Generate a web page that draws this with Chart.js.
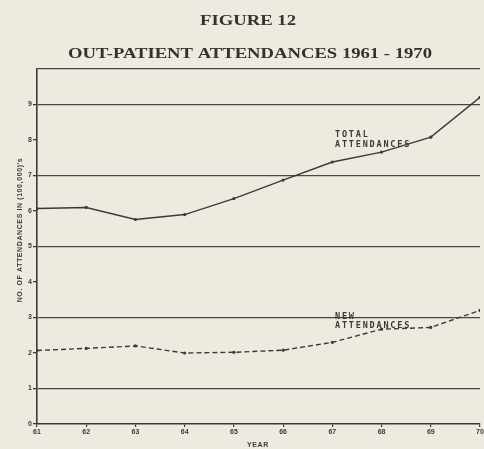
<!DOCTYPE html>
<html>
<head>
<meta charset="utf-8">
<script src="https://cdn.jsdelivr.net/npm/chart.js@4.4.1/dist/chart.umd.min.js"></script>
<style>
  html, body { margin: 0; padding: 0; background: #eeeadf; }
  #wrap { width: 484px; height: 449px; position: relative; }
</style>
</head>
<body>
<div id="wrap"><canvas id="fig12" width="484" height="449"></canvas></div>
<script>
// ── Data (out-patient attendances, in 100,000's) ─────────────
const years       = [61, 62, 63, 64, 65, 66, 67, 68, 69, 70];
const totalAtt    = [6.07, 6.1, 5.76, 5.9, 6.35, 6.87, 7.38, 7.66, 8.08, 9.2];
const newAtt      = [2.07, 2.13, 2.2, 2.0, 2.02, 2.08, 2.3, 2.67, 2.72, 3.2];
const yTickValues = [0, 1, 2, 3, 4, 5, 6, 7, 8, 9];

const INK   = '#3d3a35';
const PAPER = '#eeeadf';

const toPoints = arr => years.map((y, i) => ({ x: y, y: arr[i] }));

// draw text stretched horizontally to a given width (wide book face look)
function wideText(ctx, text, cx, y, targetW) {
  const w = ctx.measureText(text).width;
  ctx.save();
  ctx.translate(cx, y);
  ctx.scale(targetW / w, 1);
  ctx.fillText(text, 0, 0);
  ctx.restore();
}

/* ── Paper background + annotations ───────────────────────── */
const paperPlugin = {
  id: 'paper',
  beforeDraw(chart) {
    const { ctx, width, height } = chart;
    ctx.save();
    ctx.fillStyle = PAPER;
    ctx.fillRect(0, 0, width, height);
    ctx.restore();
  },
  afterDraw(chart) {
    const { ctx } = chart;
    ctx.save();
    ctx.fillStyle = '#35322d';
    ctx.textAlign = 'center';
    ctx.textBaseline = 'alphabetic';

    // Titles
    ctx.font = 'bold 14px "Liberation Serif", serif';
    wideText(ctx, 'FIGURE 12', 248, 25, 96);
    ctx.font = 'bold 15px "Liberation Serif", serif';
    wideText(ctx, 'OUT-PATIENT ATTENDANCES 1961 - 1970', 250, 58, 364);

    // Line labels
    ctx.fillStyle = INK;
    ctx.textAlign = 'left';
    ctx.font = 'bold 8.5px "DejaVu Sans Mono", monospace';
    ctx.letterSpacing = '1.8px';
    ctx.fillText('TOTAL', 335, 137);
    ctx.fillText('ATTENDANCES', 335, 147);
    ctx.fillText('NEW', 335, 319);
    ctx.fillText('ATTENDANCES', 335, 328);

    // Axis titles
    ctx.letterSpacing = '0.6px';
    ctx.textAlign = 'center';
    ctx.font = 'bold 7px "Liberation Sans", sans-serif';
    ctx.fillText('YEAR', 258, 447);
    ctx.translate(22, 230);
    ctx.rotate(-Math.PI / 2);
    ctx.fillText("NO. OF ATTENDANCES IN (100,000)'s", 0, 0);
    ctx.restore();
  }
};

/* ── Chart ────────────────────────────────────────────────── */
new Chart(document.getElementById('fig12'), {
  type: 'line',
  data: {
    datasets: [
      {
        label: 'Total attendances',
        data: toPoints(totalAtt),
        borderColor: INK,
        borderWidth: 1.4,
        pointRadius: 1.6,
        pointBackgroundColor: INK,
        pointBorderWidth: 0,
        tension: 0
      },
      {
        label: 'New attendances',
        data: toPoints(newAtt),
        borderColor: INK,
        borderWidth: 1.4,
        borderDash: [5, 3],
        pointRadius: 1.6,
        pointBackgroundColor: INK,
        pointBorderWidth: 0,
        tension: 0
      }
    ]
  },
  options: {
    responsive: false,
    animation: false,
    layout: { padding: { top: 69, right: -3, left: 0, bottom: 0 } },
    plugins: {
      legend: { display: false },
      title: { display: false },
      tooltip: { enabled: false }
    },
    scales: {
      x: {
        type: 'linear',
        min: 61,
        max: 70,
        afterFit(scale) {
          scale.height = 25;
          scale.paddingLeft = 0;
          scale.paddingRight = 0;
        },
        afterBuildTicks(scale) { scale.ticks = years.map(v => ({ value: v })); },
        grid: { drawOnChartArea: false, color: INK, tickLength: 3, lineWidth: 1.2 },
        border: { color: INK, width: 1.6 },
        ticks: {
          color: INK,
          padding: 1,
          maxRotation: 0,
          autoSkip: false,
          font: { family: 'Liberation Sans', size: 7, weight: 'bold' },
          callback: v => String(v)
        }
      },
      y: {
        min: 0,
        max: 10,
        afterFit(scale) { scale.width = 37; },
        afterBuildTicks(scale) {
          scale.ticks = [...yTickValues, 10].map(v => ({ value: v }));
        },
        grid: {
          color: c => (c.tick && (c.tick.value % 2 === 1 || c.tick.value === 10)) ? '#4a4741' : 'rgba(0,0,0,0)',
          tickColor: c => (c.tick && c.tick.value === 10) ? 'rgba(0,0,0,0)' : INK,
          lineWidth: 1.3,
          tickLength: 4
        },
        border: { color: INK, width: 1.6 },
        ticks: {
          color: INK,
          padding: 1,
          font: { family: 'Liberation Sans', size: 7, weight: 'bold' },
          callback: v => (yTickValues.includes(v) ? String(v) : '')
        }
      }
    }
  },
  plugins: [paperPlugin]
});
</script>
</body>
</html>
